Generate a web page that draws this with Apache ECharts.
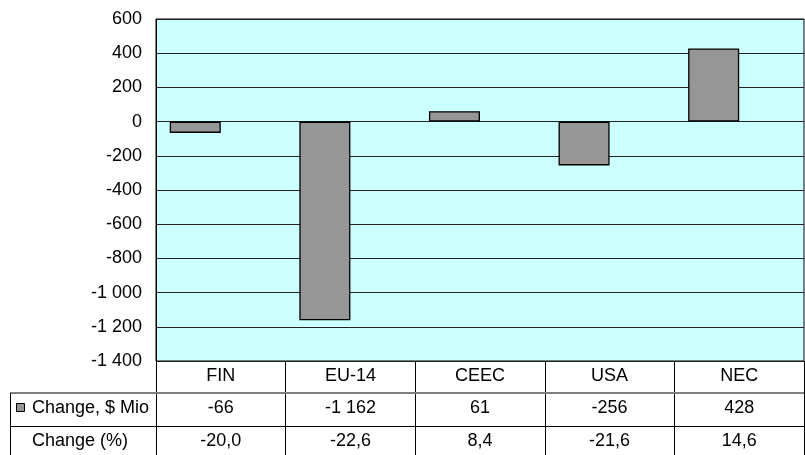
<!DOCTYPE html>
<html>
<head>
<meta charset="utf-8">
<script src="https://cdn.jsdelivr.net/npm/echarts@6/dist/echarts.min.js"></script>
<style>html,body{margin:0;padding:0;background:#fff}#c{width:805px;height:455px}</style>
</head>
<body>
<div id="c"></div>
<script>
var categories = ['FIN', 'EU-14', 'CEEC', 'USA', 'NEC'];
var changeMio = [-66, -1162, 61, -256, 428];
var changePct = [-20.0, -22.6, 8.4, -21.6, 14.6];
var rowLabels = ['Change, $ Mio', 'Change (%)'];
var yTickLabels = ['-1 400', '-1 200', '-1 000', '-800', '-600', '-400', '-200', '0', '200', '400', '600'];
var yMin = -1400, yMax = 600, yStep = 200;

function fmtThousands(v) {
  var s = String(Math.abs(v)).replace(/\B(?=(\d{3})+(?!\d))/g, ' ');
  return (v < 0 ? '-' : '') + s;
}
function fmtPct(v) { return v.toFixed(1).replace('.', ','); }

var FONT = "'Liberation Sans', Arial, sans-serif";
var FS = 18;
var L = 156, R = 804, T = 19, B = 361, W = 805, H = 455;
var TL = 10, ROW1 = 393, ROW2 = 426;

var chart = echarts.init(document.getElementById('c'), null, {renderer: 'canvas'});
var lbl = {fontFamily: FONT, fontSize: FS, color: '#000'};

chart.setOption({
  animation: false,
  grid: [
    {left: L, right: W - R, top: T, bottom: H - B, show: true, backgroundColor: '#ccffff', borderColor: '#000', borderWidth: 1},
    {left: L, right: W - R, top: B, bottom: 0, show: false}
  ],
  xAxis: [
    {type: 'category', gridIndex: 0, data: categories, axisLine: {show: false}, axisTick: {show: false},
     axisLabel: Object.assign({margin: 15, verticalAlign: 'middle', interval: 0}, lbl)},
    {type: 'category', gridIndex: 0, data: categories, position: 'bottom', axisLine: {show: false}, axisTick: {show: false},
     axisLabel: Object.assign({margin: 47, verticalAlign: 'middle', interval: 0,
       formatter: function (v, i) { return fmtThousands(changeMio[i]); }}, lbl)},
    {type: 'category', gridIndex: 0, data: categories, position: 'bottom', axisLine: {show: false}, axisTick: {show: false},
     axisLabel: Object.assign({margin: 80, verticalAlign: 'middle', interval: 0,
       formatter: function (v, i) { return fmtPct(changePct[i]); }}, lbl)},
    {type: 'category', gridIndex: 1, data: categories, axisLine: {show: false}, axisTick: {show: false}, axisLabel: {show: false},
     splitLine: {show: true, interval: 0, lineStyle: {color: '#000', width: 1}}}
  ],
  yAxis: [
    {type: 'value', gridIndex: 0, min: yMin, max: yMax, interval: yStep,
     axisLine: {show: true, lineStyle: {color: '#000', width: 1}}, axisTick: {show: false},
     splitLine: {show: true, lineStyle: {color: '#222', width: 1}},
     axisLabel: Object.assign({margin: 14, formatter: function (v) { return yTickLabels[Math.round((v - yMin) / yStep)]; }}, lbl)},
    {type: 'value', gridIndex: 1, show: false}
  ],
  series: [
    {type: 'bar', name: rowLabels[0], xAxisIndex: 0, yAxisIndex: 0, data: changeMio, barWidth: '39.4%', barGap: '0%',
     itemStyle: {color: '#969696', borderColor: '#000', borderWidth: 1.3}},
    {type: 'bar', name: rowLabels[1], xAxisIndex: 0, yAxisIndex: 0, data: changePct, barWidth: '39.4%', barGap: '0%',
     silent: true, itemStyle: {color: 'rgba(0,0,0,0)', borderWidth: 0}}
  ],
  graphic: [
    {type: 'line', shape: {x1: TL, y1: ROW1, x2: R, y2: ROW1}, style: {stroke: '#808080', lineWidth: 2}, z: 10},
    {type: 'line', shape: {x1: TL, y1: ROW2 + 0.5, x2: R, y2: ROW2 + 0.5}, style: {stroke: '#000', lineWidth: 1}, z: 10},
    {type: 'line', shape: {x1: TL + 0.5, y1: ROW1, x2: TL + 0.5, y2: H}, style: {stroke: '#000', lineWidth: 1}, z: 10},
    {type: 'rect', shape: {x: 16.5, y: 403.5, width: 8, height: 8}, style: {fill: '#969696', stroke: '#000', lineWidth: 1}, z: 10},
    {type: 'text', x: 32, y: 408, style: {text: rowLabels[0], font: FS + 'px ' + FONT, fill: '#000', verticalAlign: 'middle'}, z: 10},
    {type: 'text', x: 32, y: 441, style: {text: rowLabels[1], font: FS + 'px ' + FONT, fill: '#000', verticalAlign: 'middle'}, z: 10}
  ]
});
</script>
</body>
</html>
